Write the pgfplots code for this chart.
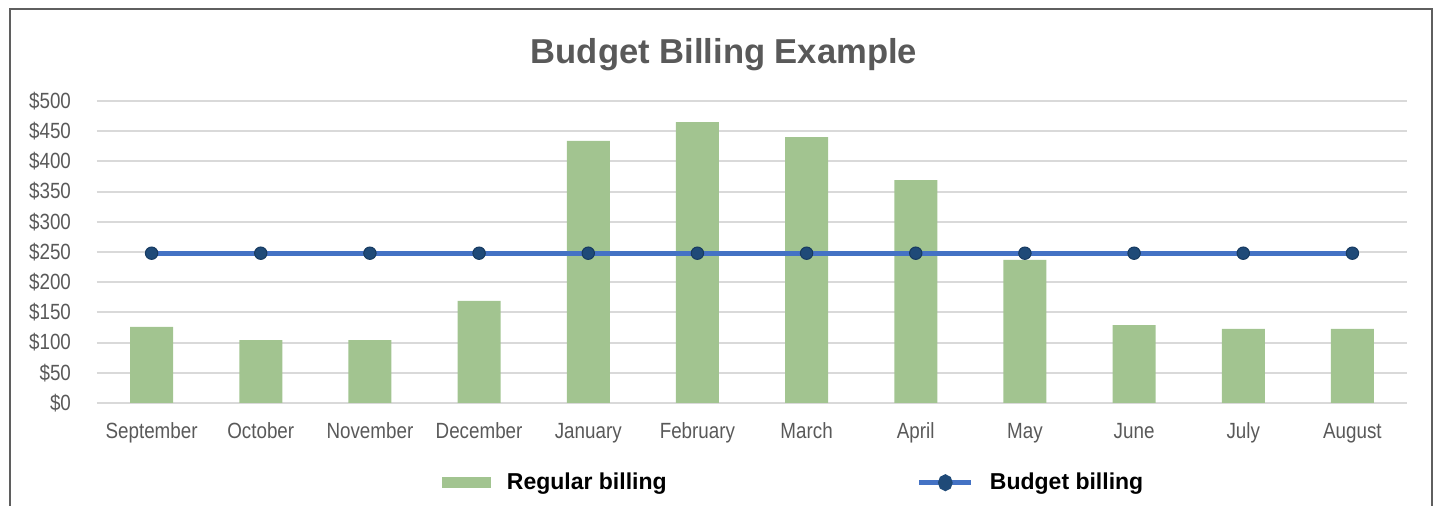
\documentclass[border=0pt]{standalone}
\usepackage{fontspec}
\setmainfont{Liberation Sans}
\newfontfamily\narrow[FakeStretch=0.855]{Liberation Sans}
\usepackage{pgfplots}
\pgfplotsset{compat=1.18}
\definecolor{barg}{HTML}{A2C490}
\definecolor{lineb}{HTML}{4472C4}
\definecolor{dotb}{HTML}{1F4A78}
\definecolor{dotbd}{HTML}{173A60}
\definecolor{txtgray}{HTML}{595959}
\definecolor{gridgray}{HTML}{D9D9D9}
\definecolor{framegray}{HTML}{5F5F5F}
\begin{document}
\begin{tikzpicture}
\useasboundingbox (0,0) rectangle (718.5pt,253pt);
\draw[framegray, line width=0.9pt] (5pt,-2pt) -- (5pt,248.5pt) -- (716pt,248.5pt) -- (716pt,-2pt);
\node[anchor=base, text=txtgray, font=\fontsize{17.3}{20}\selectfont\bfseries] at (362pt,221pt) {Budget Billing Example};
\begin{axis}[
  at={(48.5pt,51.5pt)}, anchor=south west,
  scale only axis, width=655pt, height=151pt,
  xmin=-0.5, xmax=11.5, ymin=0, ymax=500,
  axis line style={draw=none},
  major tick length=0pt,
  ymajorgrids, grid style={line width=1pt, color=gridgray},
  xtick={0,...,11},
  xticklabels={September,October,November,December,January,February,March,April,May,June,July,August},
  ytick={0,50,...,500},
  yticklabels={\$0,\$50,\$100,\$150,\$200,\$250,\$300,\$350,\$400,\$450,\$500},
  tick label style={font=\narrow\fontsize{11}{13}\selectfont, text=txtgray},
  yticklabel style={xshift=-9.5pt},
  xticklabel style={yshift=-6.5pt},
  legend columns=2,
  legend style={at={(0.263,-0.264)}, anchor=west, draw=none, fill=none, inner sep=0pt,
    font=\fontsize{11.5}{13}\selectfont\bfseries,
    nodes={inner sep=0pt, text=black},
    /tikz/every odd column/.append style={column sep=8pt},
    /tikz/every even column/.append style={column sep=125pt}},
]
\addplot[ybar, bar width=21.5pt, fill=barg, draw=none,
  legend image code/.code={\fill[barg] (0pt,-2.75pt) rectangle (24.5pt,2.75pt);}]
  coordinates {(0,126) (1,104) (2,104) (3,169) (4,434) (5,465) (6,440) (7,369) (8,237) (9,129) (10,122.5) (11,122.5)};
\addlegendentry{Regular billing}
\addplot[line width=2.65pt, color=lineb, mark=*, mark size=3.1pt,
  mark options={fill=dotb, draw=dotbd, line width=0.5pt},
  legend image code/.code={\draw[line width=2.65pt, lineb] (0pt,0pt) -- (26pt,0pt);
    \fill[dotb] (13pt,0pt) ellipse (2.3pt and 2.8pt);}]
  coordinates {(0,248) (1,248) (2,248) (3,248) (4,248) (5,248) (6,248) (7,248) (8,248) (9,248) (10,248) (11,248)};
\addlegendentry{Budget billing}
\end{axis}
\end{tikzpicture}
\end{document}
